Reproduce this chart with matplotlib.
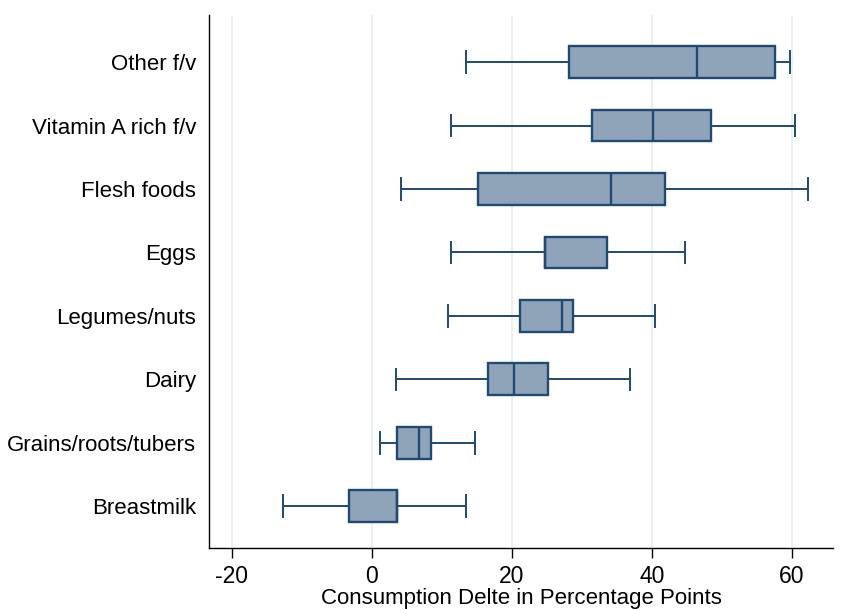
import matplotlib
matplotlib.use("Agg")
import matplotlib.pyplot as plt

plt.rcParams['font.family'] = ['Liberation Sans', 'DejaVu Sans']

categories = ["Breastmilk", "Grains/roots/tubers", "Dairy", "Legumes/nuts",
              "Eggs", "Flesh foods", "Vitamin A rich f/v", "Other f/v"]
whislo = [-12.7, 1.2, 3.4, 10.9, 11.3, 4.1, 11.3, 13.4]
q1 = [-3.2, 3.6, 16.6, 21.2, 24.8, 15.1, 31.5, 28.2]
med = [3.6, 6.7, 20.3, 27.1, 24.8, 34.1, 40.2, 46.5]
q3 = [3.6, 8.4, 25.1, 28.7, 33.6, 41.9, 48.4, 57.6]
whishi = [13.5, 14.8, 36.9, 40.5, 44.7, 62.3, 60.4, 59.8]
xticks = [-20, 0, 20, 40, 60]

edge = "#1f4a73"
fill = "#8fa4b8"

fig = plt.figure(figsize=(8.45, 6.10), dpi=100)
ax = fig.add_axes([0.247, 0.1016, 0.739, 0.8734])

stats = []
for i, c in enumerate(categories):
    stats.append(dict(label=c, whislo=whislo[i], q1=q1[i], med=med[i],
                      q3=q3[i], whishi=whishi[i], fliers=[]))
positions = list(range(1, len(categories) + 1))
ax.bxp(stats, positions=positions, vert=False, widths=0.5, patch_artist=True,
       showfliers=False, capwidths=0.34,
       boxprops=dict(facecolor=fill, edgecolor=edge, linewidth=1.7),
       medianprops=dict(color=edge, linewidth=1.7),
       whiskerprops=dict(color=edge, linewidth=1.4),
       capprops=dict(color=edge, linewidth=1.4))

ax.set_ylim(0.34, 8.74)
ax.set_xlim(-23.3, 65.9)
ax.set_xticks(xticks)
ax.set_xticklabels([str(t) for t in xticks])
ax.xaxis.grid(True, color="#e8f0f2", linewidth=1.3)
ax.set_axisbelow(True)
for s in ["top", "right"]:
    ax.spines[s].set_visible(False)
for s in ["left", "bottom"]:
    ax.spines[s].set_linewidth(1.0)
    ax.spines[s].set_color("black")
ax.tick_params(axis='y', length=0, labelsize=16, pad=9)
ax.tick_params(axis='x', length=7, width=1, labelsize=16.5, pad=5)
ax.set_xlabel("Consumption Delte in Percentage Points", fontsize=16, labelpad=0)

fig.savefig("out.png", dpi=100)
